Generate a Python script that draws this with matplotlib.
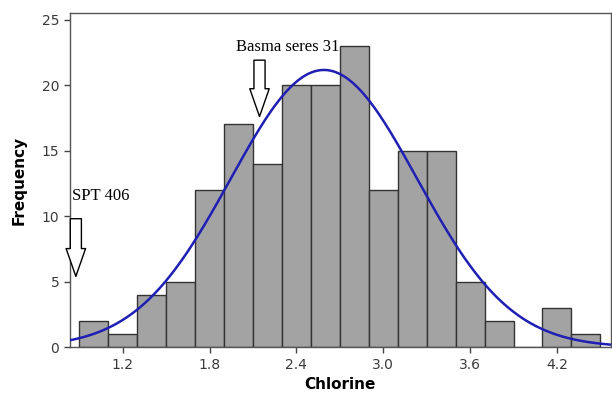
import numpy as np
import matplotlib.pyplot as plt

# histogram of chlorine values, bin width 0.2
bin_centers = [1.0, 1.2, 1.4, 1.6, 1.8, 2.0, 2.2, 2.4, 2.6, 2.8,
               3.0, 3.2, 3.4, 3.6, 3.8, 4.0, 4.2, 4.4]
counts = [2, 1, 4, 5, 12, 17, 14, 20, 20, 23,
          12, 15, 15, 5, 2, 0, 3, 1]
bin_width = 0.2

# fitted normal curve
fit_mean = 2.59
fit_sd = 0.645

xticks = [1.2, 1.8, 2.4, 3.0, 3.6, 4.2]
yticks = [0, 5, 10, 15, 20, 25]

fig = plt.figure(figsize=(6.12, 3.94), dpi=100)
ax = fig.add_axes([0.114, 0.119, 0.884, 0.848])

ax.bar(bin_centers, counts, width=bin_width, color="#a3a3a3",
       edgecolor="#333333", linewidth=1.0, zorder=2)

n = sum(counts)
xs = np.linspace(0.834, 4.572, 400)
pdf = n * bin_width / (fit_sd * np.sqrt(2 * np.pi)) * np.exp(-0.5 * ((xs - fit_mean) / fit_sd) ** 2)
ax.plot(xs, pdf, color="#1f1fb4", linewidth=1.8, zorder=3)

ax.set_xlim(0.834, 4.572)
ax.set_ylim(0, 25.5)
ax.set_xticks(xticks)
ax.set_xticklabels([f"{t:.1f}" for t in xticks])
ax.set_yticks(yticks)
ax.tick_params(axis="both", direction="out", length=4, width=1,
               colors="#444444", labelsize=10, labelcolor="#3a3a3a")
for s in ax.spines.values():
    s.set_color("#555555")
    s.set_linewidth(1.0)

ax.set_xlabel("Chlorine", fontsize=11, fontweight="bold", labelpad=4)
ax.set_ylabel("Frequency", fontsize=11, fontweight="bold", labelpad=11)

serif = ["Liberation Serif", "DejaVu Serif"]
ax.text(1.986, 22.9, "Basma seres 31", family=serif, fontsize=12,
        va="center", ha="left", zorder=4)
ax.text(0.848, 11.5, "SPT 406", family=serif, fontsize=12,
        va="center", ha="left", zorder=4)

arrow = dict(arrowstyle="simple,head_width=0.7,head_length=1.0,tail_width=0.4",
             fc="white", ec="black", lw=1.0, mutation_scale=20,
             shrinkA=0, shrinkB=0)
ax.annotate("", xy=(2.145, 17.6), xytext=(2.145, 21.9), arrowprops=arrow, zorder=4)
ax.annotate("", xy=(0.876, 5.4), xytext=(0.876, 9.8), arrowprops=arrow, zorder=4)

fig.savefig("out.png", dpi=100)
